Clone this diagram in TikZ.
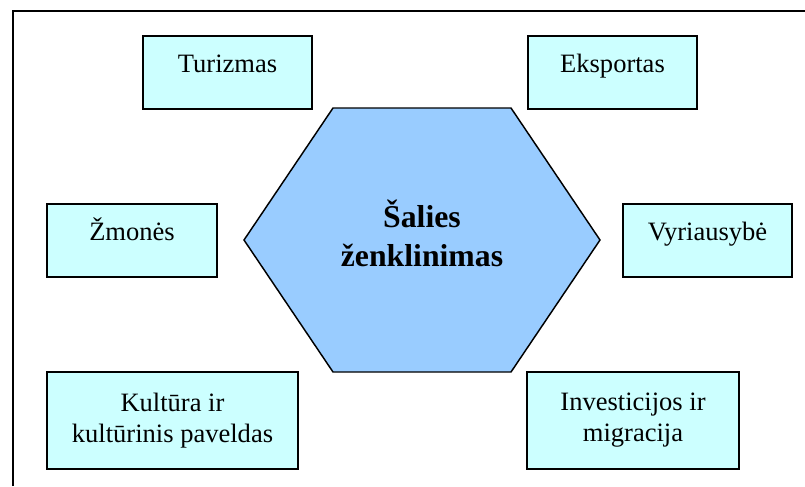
\documentclass[tikz,border=0pt]{standalone}
\usepackage{tikz}
\usepackage{xcolor}
\usepackage{fontspec}
\setmainfont{Liberation Serif}

\definecolor{boxcyan}{RGB}{204,255,255}
\definecolor{hexblue}{RGB}{153,204,255}

\tikzset{
  topic/.style={draw=black, line width=1.1pt, fill=boxcyan, inner sep=0pt, align=center,
    font=\fontsize{19.9}{23.3}\selectfont},
  oneline/.style={text height=13.5pt, text depth=13.5pt},
  hub/.style={inner sep=0pt, align=center, font=\bfseries\fontsize{23.8}{29.3}\selectfont}
}

\begin{document}
\begin{tikzpicture}[x=0.75pt,y=0.75pt,yscale=-1,xscale=1]
\useasboundingbox (0,0) rectangle (805,486);

%Straight Lines [frame]
\draw [line width=1.1pt]  (13,486) -- (13,11) -- (805,11) ;
%Shape: Hexagon
\draw [line width=1.1pt, fill=hexblue]  (244,240) -- (333,108) -- (511,108) -- (600,240) -- (511,372) -- (333,372) -- cycle ;

% Text Node
\draw (422,233) node [hub] (brand) {Šalies\\ženklinimas};
% Text Node
\draw (227.5,72.5) node [topic, oneline, minimum width=126.75pt, minimum height=54.75pt] (turizmas) {Turizmas};
% Text Node
\draw (612.5,72.5) node [topic, oneline, minimum width=126.75pt, minimum height=54.75pt] (eksportas) {Eksportas};
% Text Node
\draw (132,240.5) node [topic, oneline, minimum width=127.5pt, minimum height=54.75pt] (zmones) {Žmonės};
% Text Node
\draw (707.5,240.5) node [topic, oneline, minimum width=126.75pt, minimum height=54.75pt] (vyriausybe) {Vyriausybė};
% Text Node
\draw (172.5,420.5) node [topic, minimum width=188.25pt, minimum height=72.75pt] (kultura) {Kultūra ir\\kultūrinis paveldas};
% Text Node
\draw (633,420.5) node [topic, minimum width=159pt, minimum height=72.75pt] (investicijos) {Investicijos ir\\migracija};

\end{tikzpicture}
\end{document}
